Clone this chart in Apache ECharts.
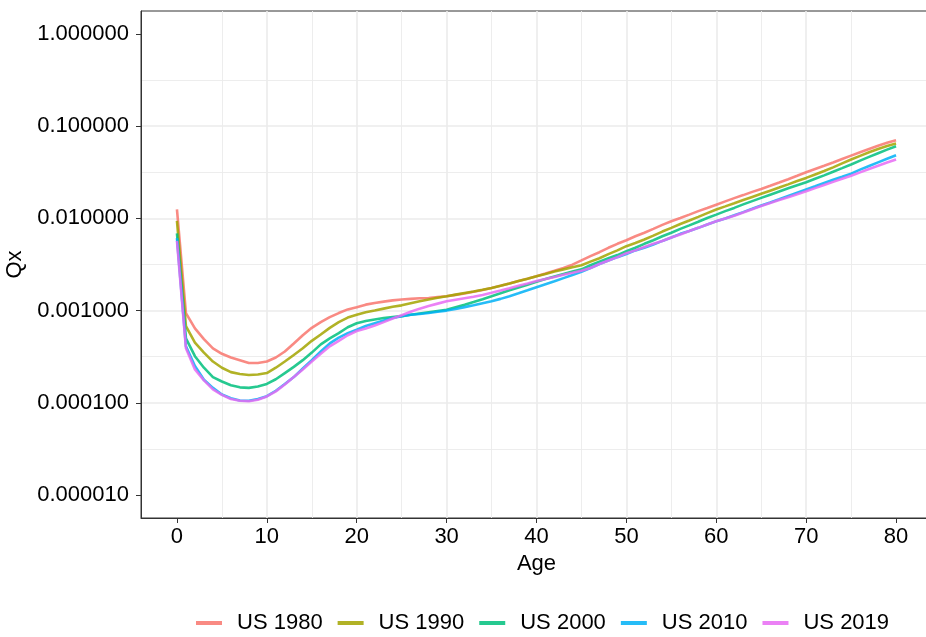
<!DOCTYPE html>
<html>
<head>
<meta charset="utf-8">
<script src="https://cdn.jsdelivr.net/npm/echarts@6/dist/echarts.min.js"></script>
<style>
html,body{margin:0;padding:0;background:#fff;}
#chart{width:926px;height:637px;}
</style>
</head>
<body>
<div id="chart"></div>
<script>
const ages = Array.from({length: 81}, (_, i) => i);
const seriesNames = ['US 1980', 'US 1990', 'US 2000', 'US 2010', 'US 2019'];
const colors = ['#F8766D', '#A3A500', '#00BF7D', '#00B0F6', '#E76BF3'];
const xTicks = [0, 10, 20, 30, 40, 50, 60, 70, 80];
const yTicks = [0.00001, 0.0001, 0.001, 0.01, 0.1, 1];

const us1980 = [0.0125,0.00094,0.00064,0.00049,0.00039,0.00034,0.00031,0.00029,0.00027,0.00027,
0.00028,0.00031,0.00036,0.00044,0.00054,0.00065,0.00075,0.00085,0.00094,0.00103,
0.00109,0.00116,0.00121,0.00125,0.00129,0.00132,0.00134,0.00136,0.00137,0.0014,
0.00143,0.00148,0.00153,0.0016,0.00167,0.00176,0.00186,0.00197,0.0021,0.00222,
0.00236,0.00252,0.0027,0.0029,0.00315,0.0035,0.0039,0.0043,0.0048,0.0053,
0.0058,0.0064,0.0070,0.0077,0.0085,0.0093,0.0101,0.0110,0.0120,0.0130,
0.0141,0.0153,0.0166,0.0179,0.0194,0.0209,0.0226,0.0245,0.0266,0.0290,
0.0317,0.0344,0.0373,0.0405,0.0441,0.0480,0.0522,0.0567,0.0614,0.0660,0.0705];

const us1990 = [0.0094,0.00068,0.00045,0.00035,0.00028,0.00024,0.000215,0.000205,0.0002,0.000203,
0.00021,0.00024,0.00028,0.00033,0.00039,0.00047,0.00055,0.00065,0.00075,0.00084,
0.0009,0.00096,0.001,0.00105,0.0011,0.00114,0.0012,0.00126,0.00132,0.00138,
0.00143,0.00149,0.00155,0.00161,0.00168,0.00176,0.00186,0.00197,0.0021,0.00222,
0.00236,0.0025,0.00265,0.0028,0.00295,0.0031,0.0034,0.0037,0.0041,0.0045,
0.0050,0.0054,0.0059,0.0065,0.0072,0.0079,0.0087,0.0095,0.0104,0.0114,
0.0125,0.0135,0.0146,0.0158,0.0171,0.0185,0.0200,0.0216,0.0234,0.0254,
0.0275,0.0300,0.0327,0.0358,0.0395,0.0435,0.0477,0.0521,0.0566,0.0609,0.065];

const us2000 = [0.0069,0.0005,0.00032,0.00024,0.00019,0.00017,0.000155,0.000147,0.000145,0.00015,
0.00016,0.00018,0.00021,0.000245,0.00029,0.00035,0.00043,0.0005,0.00057,0.00066,
0.00073,0.00077,0.0008,0.00083,0.00085,0.00087,0.0009,0.00093,0.00096,0.00099,
0.00102,0.00109,0.00116,0.00124,0.00133,0.00143,0.00154,0.00166,0.00178,0.00191,
0.00205,0.0022,0.00235,0.0025,0.00265,0.0028,0.0031,0.0034,0.0037,0.0040,
0.0044,0.0048,0.0053,0.0058,0.0064,0.0070,0.0077,0.0084,0.0092,0.0101,
0.0110,0.0120,0.0130,0.0142,0.0154,0.0167,0.0181,0.0196,0.0212,0.0229,
0.0247,0.0269,0.0293,0.0321,0.0351,0.0384,0.0423,0.0465,0.0510,0.0557,0.0607];

const us2010 = [0.0061,0.00041,0.00025,0.000178,0.000145,0.000123,0.000112,0.000106,0.000105,0.00011,
0.000118,0.000135,0.00016,0.00019,0.000235,0.00029,0.00036,0.00044,0.00051,0.00057,
0.00062,0.00068,0.00073,0.00078,0.00083,0.00087,0.0009,0.00092,0.00094,0.00097,
0.001,0.00104,0.00109,0.00114,0.0012,0.00126,0.00134,0.00143,0.00154,0.00166,
0.00179,0.00193,0.00208,0.00225,0.00243,0.00263,0.0029,0.0032,0.0035,0.0038,
0.0041,0.0045,0.0048,0.0052,0.0057,0.0062,0.0068,0.0073,0.0079,0.0086,
0.0093,0.0100,0.0108,0.0117,0.0127,0.0138,0.0149,0.0161,0.0175,0.0190,
0.0206,0.0223,0.0242,0.0262,0.0283,0.0306,0.0338,0.0370,0.0405,0.0443,0.0484];

const us2019 = [0.0057,0.00039,0.00023,0.000175,0.00014,0.000122,0.00011,0.000105,0.000104,0.000108,
0.000117,0.000133,0.000158,0.00019,0.00023,0.00028,0.00034,0.00041,0.00047,0.00054,
0.0006,0.00064,0.00069,0.00075,0.00082,0.00089,0.00097,0.00105,0.00112,0.00119,
0.00126,0.00131,0.00136,0.00141,0.00148,0.00156,0.00165,0.00175,0.00186,0.00197,
0.00209,0.0022,0.00232,0.00245,0.00257,0.0027,0.0029,0.0032,0.0035,0.0038,
0.0042,0.0045,0.0049,0.0053,0.0057,0.0062,0.0067,0.0073,0.0079,0.0086,
0.0093,0.0100,0.0107,0.0116,0.0126,0.0136,0.0147,0.0158,0.0170,0.0183,
0.0197,0.0213,0.0230,0.0249,0.0269,0.0290,0.0316,0.0344,0.0373,0.0404,0.0436];

const allValues = [us1980, us1990, us2000, us2010, us2019];

const FONT = "'Liberation Sans', Arial, sans-serif";
const chart = echarts.init(document.getElementById('chart'));

const series = seriesNames.map((name, k) => ({
  name: name,
  type: 'line',
  xAxisIndex: 0,
  yAxisIndex: 0,
  showSymbol: false,
  symbol: 'none',
  data: ages.map((a, i) => [a, allValues[k][i]]),
  lineStyle: { width: 2.6, color: colors[k], opacity: 0.85 },
  itemStyle: { color: colors[k], opacity: 0.85 },
  emphasis: { disabled: true }
}));

const option = {
  animation: false,
  backgroundColor: '#ffffff',
  grid: {
    left: 141, top: 11, width: 791, height: 507,
    outerBoundsMode: 'none', containLabel: false,
    show: true, borderColor: '#333333', borderWidth: 1, backgroundColor: 'transparent'
  },
  legend: {
    left: 191, top: 607,
    icon: 'rect', itemWidth: 26, itemHeight: 4, itemGap: 15,
    textStyle: { fontFamily: FONT, fontSize: 22, color: '#000', padding: [0, 0, 0, 10] },
    data: seriesNames
  },
  xAxis: [{
    type: 'value', min: -4, max: 84, splitNumber: 9,
    name: 'Age', nameLocation: 'middle', nameGap: 34,
    nameTextStyle: { fontFamily: FONT, fontSize: 22, color: '#000' },
    axisLine: { show: true, onZero: false, lineStyle: { color: '#333333', width: 1 } },
    axisTick: { show: true, length: 5, customValues: xTicks, lineStyle: { color: '#333333', width: 1 } },
    axisLabel: { fontFamily: FONT, fontSize: 22, color: '#000', margin: 8, customValues: xTicks },
    splitLine: { show: true, showMinLine: false, showMaxLine: false, lineStyle: { color: '#EBEBEB', width: 1.6 } },
    minorTick: { show: false, splitNumber: 2 },
    minorSplitLine: { show: true, lineStyle: { color: '#EBEBEB', width: 0.9 } }
  }],
  yAxis: [{
    type: 'log', logBase: 10,
    min: Math.pow(10, -5.25), max: Math.pow(10, 0.25),
    name: 'Qx', nameLocation: 'middle', nameGap: 108, nameRotate: 90,
    nameTextStyle: { fontFamily: FONT, fontSize: 22, color: '#000' },
    axisLine: { show: true, onZero: false, lineStyle: { color: '#333333', width: 1 } },
    axisTick: { show: true, length: 5, customValues: yTicks, lineStyle: { color: '#333333', width: 1 } },
    axisLabel: {
      fontFamily: FONT, fontSize: 22, color: '#000', margin: 12, customValues: yTicks,
      formatter: v => Number(v).toFixed(6)
    },
    splitLine: { show: true, showMinLine: false, showMaxLine: false, lineStyle: { color: '#EBEBEB', width: 1.6 } }
  }, {
    type: 'value', min: -4.75, max: 0.75, splitNumber: 5,
    position: 'left',
    axisLine: { show: false, onZero: false }, axisTick: { show: false }, axisLabel: { show: false },
    splitLine: { show: true, showMinLine: false, showMaxLine: false, lineStyle: { color: '#EBEBEB', width: 0.9 } }
  }],
  series: series
};
chart.setOption(option);
</script>
</body>
</html>
